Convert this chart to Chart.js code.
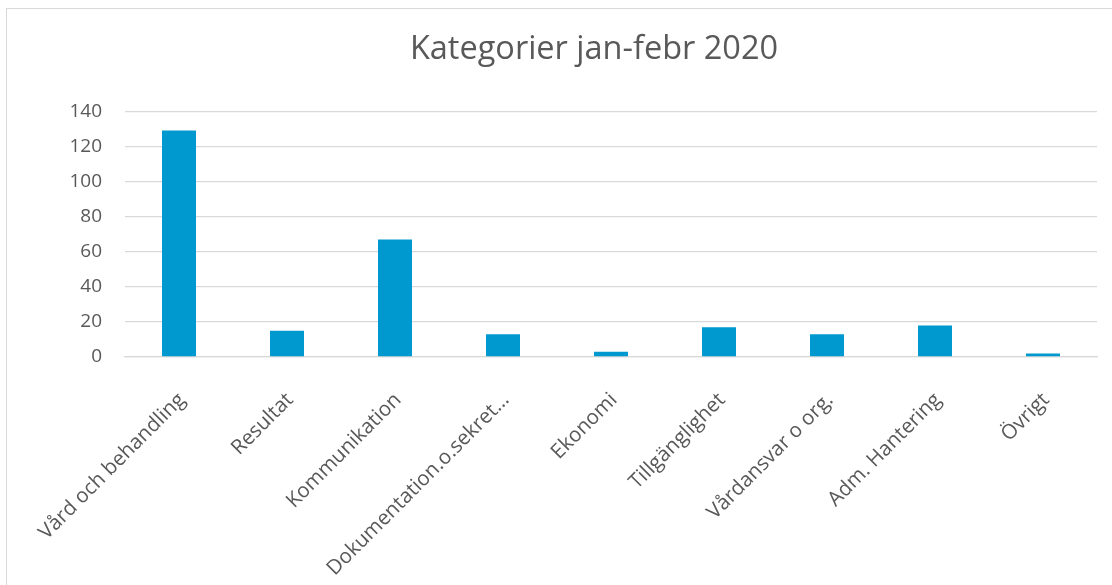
<!DOCTYPE html>
<html>
<head>
<meta charset="utf-8">
<script src="https://cdn.jsdelivr.net/npm/chart.js@4/dist/chart.umd.min.js"></script>
<style>
  html, body { margin: 0; padding: 0; background: #fff; overflow: hidden; width: 1112px; height: 585px; }
  #frame { position: absolute; left: 6px; top: 8px; width: 1300px; height: 800px; border: 1px solid #d9d9d9; box-sizing: border-box; }
  #wrap { position: absolute; left: 0; top: 0; width: 1182px; height: 585px; }
</style>
</head>
<body>
<div id="frame"></div>
<div id="wrap"><canvas id="c" width="1182" height="585"></canvas></div>
<script>
const categories = ["Vård och behandling", "Resultat", "Kommunikation", "Dokumentation.o.sekret…", "Ekonomi", "Tillgänglighet", "Vårdansvar o org.", "Adm. Hantering", "Övrigt"];
const values = [129, 15, 67, 13, 3, 17, 13, 18, 2];
const yTicks = [0, 20, 40, 60, 80, 100, 120, 140];
const titleText = "Kategorier jan-febr 2020";

const textColor = "#595959";
const gridColor = "#d9d9d9";

new Chart(document.getElementById("c"), {
  type: "bar",
  data: {
    labels: categories,
    datasets: [{
      data: values,
      backgroundColor: "#0099cf",
      borderWidth: 0,
      categoryPercentage: 1,
      barPercentage: 0.315
    }]
  },
  options: {
    responsive: false,
    animation: false,
    devicePixelRatio: 1,
    layout: { padding: { left: 6, right: 0, top: 0, bottom: 0 } },
    plugins: {
      legend: { display: false },
      tooltip: { enabled: false },
      title: {
        display: true,
        text: titleText,
        color: textColor,
        font: { family: "'Open Sans', sans-serif", size: 32.5, weight: "normal", lineHeight: 1.2 },
        padding: { top: 30, bottom: 42.3 }
      }
    },
    scales: {
      x: {
        grid: { display: false, drawTicks: false },
        border: { display: true, color: gridColor, width: 1.3 },
        ticks: {
          color: textColor,
          font: { family: "'Open Sans', sans-serif", size: 20.5 },
          minRotation: 45,
          maxRotation: 45,
          autoSkip: false,
          padding: 31,
          labelOffset: 3
        },
        afterFit(scale) { scale.height = 228; }
      },
      y: {
        min: 0,
        max: 140,
        afterBuildTicks(scale) { scale.ticks = yTicks.map(v => ({ value: v })); },
        grid: { color: gridColor, lineWidth: 1.3, drawTicks: false },
        border: { display: false },
        ticks: {
          color: textColor,
          font: { family: "'Open Sans', sans-serif", size: 19 },
          padding: 23
        },
        afterFit(scale) { scale.width = 119; }
      },
      yRight: {
        type: "linear",
        position: "right",
        display: true,
        min: 0,
        max: 140,
        grid: { display: false, drawTicks: false },
        border: { display: false },
        ticks: { display: false },
        afterFit(scale) { scale.width = 85; }
      }
    }
  }
});
</script>
</body>
</html>
